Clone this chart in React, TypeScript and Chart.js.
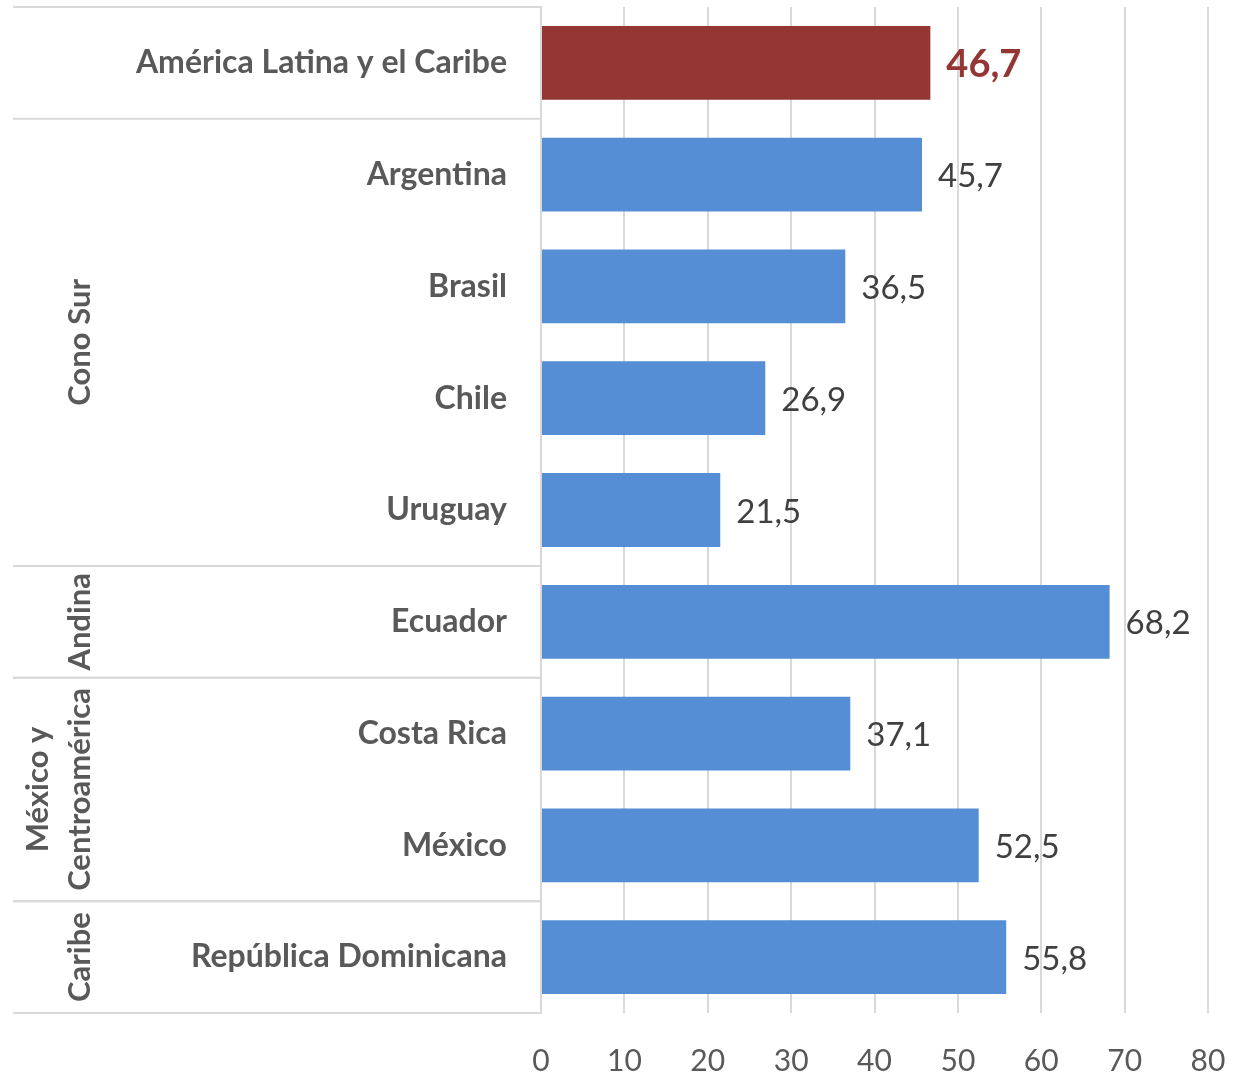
import React, { useEffect, useRef } from "react";
import { Chart, registerables } from "chart.js";

Chart.register(...registerables);

const categories = [
  "América Latina y el Caribe",
  "Argentina",
  "Brasil",
  "Chile",
  "Uruguay",
  "Ecuador",
  "Costa Rica",
  "México",
  "República Dominicana",
];
const values = [46.7, 45.7, 36.5, 26.9, 21.5, 68.2, 37.1, 52.5, 55.8];
const barColors = ["#943634", "#558ED5", "#558ED5", "#558ED5", "#558ED5", "#558ED5", "#558ED5", "#558ED5", "#558ED5"];

const groupNames: string[][] = [[], ["Cono Sur"], ["Andina"], ["México y", "Centroamérica"], ["Caribe"]];
const groupStarts = [0, 1, 5, 6, 8];
const groupEnds = [0, 4, 5, 7, 8];

const FONT = "Lato, 'Open Sans', sans-serif";
const GRID = "#d9d9d9";
const TEXT = "#595959";

const fmt = (v: number) => v.toFixed(1).replace(".", ",");

const decorPlugin = {
  id: "decor",
  afterDatasetsDraw(chart: any) {
    const ctx = chart.ctx;
    const y = chart.scales.y;
    const area = chart.chartArea;
    const step = y.getPixelForValue(1) - y.getPixelForValue(0);
    ctx.save();
    // group separator lines
    ctx.strokeStyle = GRID;
    ctx.lineWidth = 2;
    const bounds = new Set<number>();
    groupStarts.forEach((s, i) => {
      bounds.add(y.getPixelForValue(s) - step / 2);
      bounds.add(y.getPixelForValue(groupEnds[i]) + step / 2);
    });
    bounds.forEach((py) => {
      ctx.beginPath();
      ctx.moveTo(13, py);
      ctx.lineTo(area.left, py);
      ctx.stroke();
    });
    // group labels
    ctx.fillStyle = TEXT;
    ctx.font = `bold 31px ${FONT}`;
    ctx.textAlign = "center";
    ctx.textBaseline = "middle";
    groupNames.forEach((lines, i) => {
      if (!lines.length) return;
      const cy = (y.getPixelForValue(groupStarts[i]) + y.getPixelForValue(groupEnds[i])) / 2;
      const n = lines.length;
      lines.forEach((ln, k) => {
        const cx = 80 - (n - 1 - k) * 42;
        ctx.save();
        ctx.translate(cx, cy);
        ctx.rotate(-Math.PI / 2);
        ctx.fillText(ln, 0, 0);
        ctx.restore();
      });
    });
    // data labels
    const meta = chart.getDatasetMeta(0);
    ctx.textAlign = "left";
    meta.data.forEach((bar: any, i: number) => {
      if (i === 0) {
        ctx.fillStyle = "#943634";
        ctx.font = `bold 38px ${FONT}`;
      } else {
        ctx.fillStyle = "#404040";
        ctx.font = `33px ${FONT}`;
      }
      ctx.fillText(fmt(values[i]), bar.x + 16, bar.y + 2);
    });
    ctx.restore();
  },
};

export default function App() {
  const ref = useRef<HTMLCanvasElement | null>(null);
  useEffect(() => {
    if (!ref.current) return;
    const chart = new Chart(ref.current, {
      type: "bar",
      data: {
        labels: categories,
        datasets: [
          {
            data: values,
            backgroundColor: barColors,
            barPercentage: 0.66,
            categoryPercentage: 1,
          },
        ],
      },
      options: {
        indexAxis: "y",
        animation: false,
        responsive: true,
        maintainAspectRatio: false,
        layout: { padding: { top: 7, right: 25, left: 0, bottom: 0 } },
        plugins: { legend: { display: false }, tooltip: { enabled: false } },
        scales: {
          x: {
            min: 0,
            max: 80,
            ticks: { stepSize: 10, color: TEXT, font: { family: FONT, size: 30 }, padding: 30 },
            grid: { color: GRID, lineWidth: 2, drawTicks: false },
            border: { display: false },
            afterFit: (s: any) => {
              s.height = 64;
              s.paddingLeft = 0;
              s.paddingRight = 0;
            },
          },
          y: {
            ticks: { color: TEXT, font: { family: FONT, size: 32, weight: "bold" }, padding: 34 },
            grid: { display: false, drawTicks: false },
            border: { display: true, color: GRID, width: 2 },
            afterFit: (s: any) => {
              s.width = 541;
              s.paddingTop = 0;
              s.paddingBottom = 0;
            },
          },
        },
      } as any,
      plugins: [decorPlugin],
    });
    return () => chart.destroy();
  }, []);
  return (
    <div style={{ position: "fixed", left: 0, top: 0, width: 1233, height: 1077, background: "#fff" }}>
      <canvas ref={ref} />
    </div>
  );
}
